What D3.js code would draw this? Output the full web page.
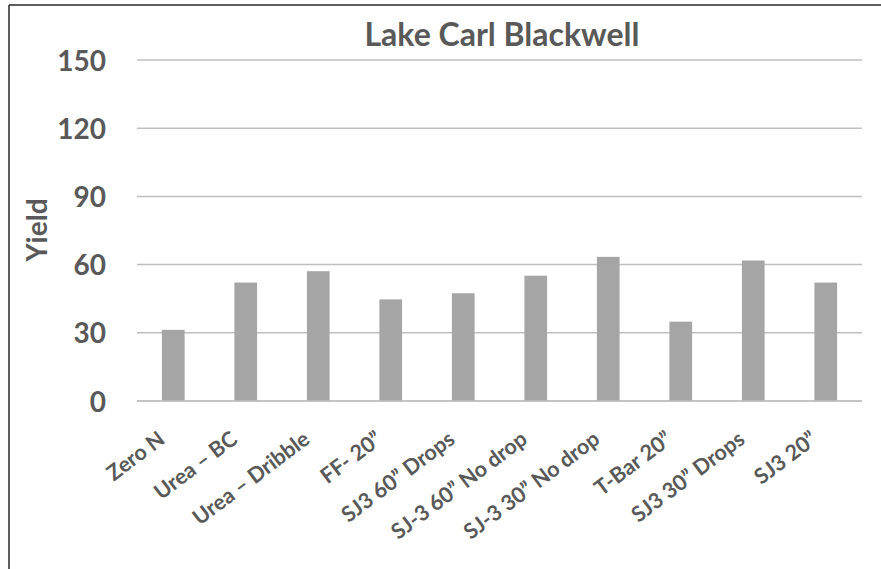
<!DOCTYPE html>
<html>
<head>
<meta charset="utf-8">
<script src="https://cdn.jsdelivr.net/npm/d3@7"></script>
<style>
  html, body { margin: 0; padding: 0; background: #fff; }
  svg { display: block; }
  text { font-family: Lato, "Open Sans", sans-serif; font-weight: bold; fill: #595959; }
</style>
</head>
<body>
<script>
const categories = ["Zero N", "Urea – BC", "Urea – Dribble", "FF- 20”", "SJ3 60” Drops",
  "SJ-3 60” No drop", "SJ-3 30” No drop", "T-Bar 20”", "SJ3 30” Drops", "SJ3 20”"];
const yieldValues = [31.3, 52.1, 57.1, 44.7, 47.4, 55.1, 63.4, 34.9, 61.8, 52.1];
const yTicks = [0, 30, 60, 90, 120, 150];
const chartTitle = "Lake Carl Blackwell";
const yAxisTitle = "Yield";

const W = 881, H = 569;
const svg = d3.select("body").append("svg").attr("width", W).attr("height", H);

// frame (top and left edges visible)
svg.append("line").attr("x1", 9).attr("y1", 5).attr("x2", W).attr("y2", 5)
  .attr("stroke", "#262626").attr("stroke-width", 1.5);
svg.append("line").attr("x1", 9).attr("y1", 5).attr("x2", 9).attr("y2", H)
  .attr("stroke", "#262626").attr("stroke-width", 1.5);

const x = d3.scaleBand().domain(categories).range([137, 862]).paddingInner(0.687).paddingOuter(0.3435);
const y = d3.scaleLinear().domain([0, 150]).range([401, 60]);

// gridlines
svg.append("g").selectAll("line").data(yTicks).join("line")
  .attr("x1", 137).attr("x2", 862)
  .attr("y1", d => y(d)).attr("y2", d => y(d))
  .attr("stroke", "#bfbfbf").attr("stroke-width", 1.5);

// bars
svg.append("g").selectAll("rect").data(yieldValues).join("rect")
  .attr("x", (d, i) => x(categories[i]))
  .attr("width", x.bandwidth())
  .attr("y", d => y(d))
  .attr("height", d => y(0) - y(d))
  .attr("fill", "#a5a5a5");

// baseline redraw over bars
svg.append("line").attr("x1", 137).attr("x2", 862).attr("y1", y(0)).attr("y2", y(0))
  .attr("stroke", "#bfbfbf").attr("stroke-width", 1.5);

// y tick labels
svg.append("g").selectAll("text").data(yTicks).join("text")
  .attr("x", 106).attr("y", d => y(d) + 10.5)
  .attr("text-anchor", "end").attr("font-size", 28)
  .text(d => d);

// x labels
svg.append("g").selectAll("text").data(categories).join("text")
  .attr("text-anchor", "end").attr("font-size", 21.5)
  .attr("transform", d => `translate(${x(d) + x.bandwidth() / 2 - 7},${y(0) + 41}) rotate(-37)`)
  .text(d => d);

// title
svg.append("text").attr("x", 502).attr("y", 46).attr("text-anchor", "middle")
  .attr("font-size", 32).text(chartTitle);

// y axis title
svg.append("text").attr("transform", "translate(47,230) rotate(-90)")
  .attr("text-anchor", "middle").attr("font-size", 28).text(yAxisTitle);
</script>
</body>
</html>
